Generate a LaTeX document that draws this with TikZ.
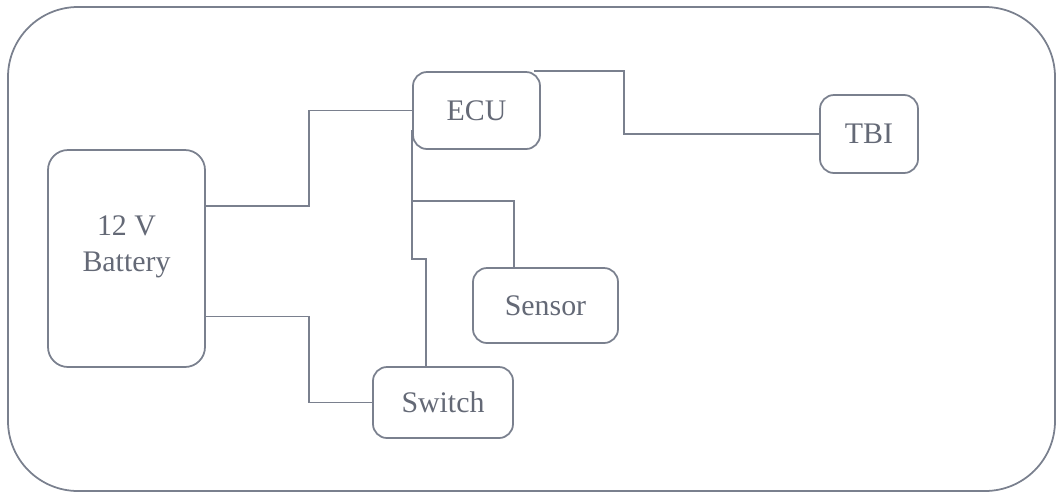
\documentclass[tikz,border=0pt]{standalone}
\usepackage{fontspec}
\setmainfont{Liberation Serif}
\usepackage{xcolor}
\usepackage{tikz}
\usetikzlibrary{positioning,calc}

\definecolor{wire}{RGB}{122,128,142}
\definecolor{label}{RGB}{100,105,118}

\begin{document}
\begin{tikzpicture}[
    box/.style={draw=wire, line width=1pt, rounded corners=0.28cm, text=label,
                font=\fontsize{17}{20.5}\selectfont, align=center},
    link/.style={draw=wire, line width=1pt}]
    \useasboundingbox (0,0) rectangle (21.18,-9.86);
    % frame
    \draw[wire, line width=1pt, rounded corners=1.4cm] (0.16,-0.14) rectangle (21.1,-9.82);

    % units
    \node[box, minimum width=3.14cm, minimum height=4.34cm, rounded corners=0.4cm,
          text depth=0.6cm] (bat) at (2.53,-5.17) {12 V\\Battery};
    \node[box, minimum width=2.54cm, minimum height=1.54cm] (ecu) at (9.53,-2.21) {ECU};
    \node[box, minimum width=1.96cm, minimum height=1.56cm] (tbi) at (17.38,-2.68) {TBI};
    \node[box, minimum width=2.9cm, minimum height=1.5cm] (sen) at (10.91,-6.11) {Sensor};
    \node[box, minimum width=2.8cm, minimum height=1.42cm] (sw) at (8.86,-8.05) {Switch};

    % wiring
    \draw[link] ($(bat.north east)!0.26!(bat.south east)$) -- ++(2.06,0) |- (ecu.west);
    \draw[link] ($(bat.north east)!0.765!(bat.south east)$) -- ++(2.06,0) |- (sw.west);
    \draw[link] ([yshift=0.4cm]ecu.south west) -- ++(0,-2.58) -| ([xshift=1.08cm]sw.north west);
    \draw[link] ([yshift=-1.02cm]ecu.south west) -| ([xshift=0.84cm]sen.north west);
    \draw[link] ([xshift=-0.14cm]ecu.north east) -- ++(1.8,0) |- (tbi.west);
\end{tikzpicture}
\end{document}
